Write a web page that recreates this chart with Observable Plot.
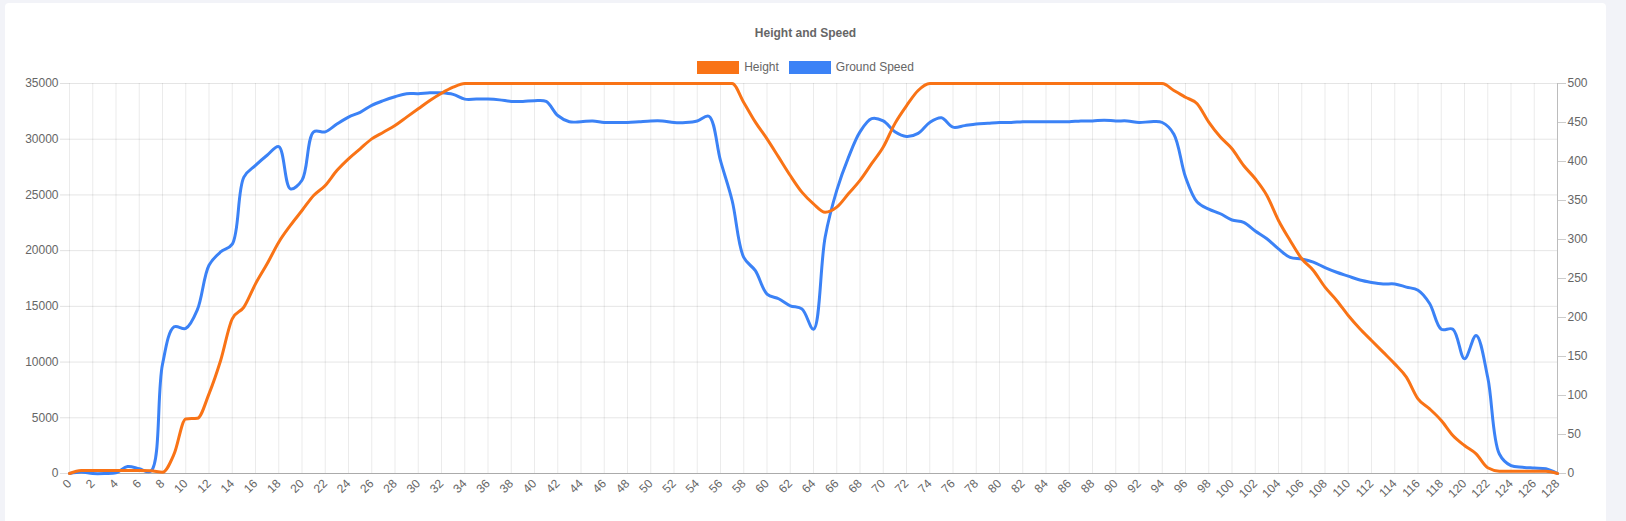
<!DOCTYPE html>
<html>
<head>
<meta charset="utf-8">
<script src="https://cdn.jsdelivr.net/npm/d3@7"></script>
<script src="https://cdn.jsdelivr.net/npm/@observablehq/plot@0.6"></script>
<style>
  html, body { margin: 0; padding: 0; overflow: hidden; width: 1626px; height: 521px; background: #f2f3f8; }
  #card { position: absolute; left: 5px; top: 3px; width: 1601px; height: 540px; background: #fff; border-radius: 4px; overflow: hidden; font-family: Arial, "Liberation Sans", sans-serif; color: #666; }
  #title { position: absolute; top: 22px; left: 0; width: 100%; text-align: center; font-weight: bold; font-size: 12px; line-height: 16px; }
  #legend { position: absolute; top: 56px; left: 0; width: 100%; display: flex; justify-content: center; align-items: center; font-size: 12px; line-height: 16px; }
  .item { display: flex; align-items: center; margin: 0 5px; }
  .box { width: 42px; height: 13px; margin-right: 5px; }
  #chart { position: absolute; top: 73px; left: 0; }
</style>
</head>
<body>
<div id="card">
  <div id="title"></div>
  <div id="legend"></div>
  <div id="chart"></div>
</div>
<script>
const titleText = "Height and Speed";
const seriesNames = ["Height", "Ground Speed"];
const seriesColors = ["#f97316", "#3b82f6"];

// time index (category axis)
const times = d3.range(0, 129);

// Height in feet (left axis)
const heightValues = [
  0, 270, 270, 270, 270, 270, 270, 250, 120, 1760,
  4900, 4950, 7150, 10140, 13880, 14930, 17020, 18820, 20760, 22260,
  23600, 24950, 25850, 27190, 28240, 29140, 30030, 30630, 31230, 31980,
  32730, 33480, 34130, 34670, 35000, 35000, 35000, 35000, 35000, 35000,
  35000, 35000, 35000, 35000, 35000, 35000, 35000, 35000, 35000, 35000,
  35000, 35000, 35000, 35000, 35000, 35000, 35000, 35000, 33300, 31530,
  30030, 28390, 26740, 25250, 24200, 23450, 23900, 25100, 26300, 27800,
  29300, 31400, 33000, 34370, 35000, 35000, 35000, 35000, 35000, 35000,
  35000, 35000, 35000, 35000, 35000, 35000, 35000, 35000, 35000, 35000,
  35000, 35000, 35000, 35000, 35000, 34370, 33770, 33180, 31530, 30190,
  29140, 27640, 26450, 24950, 22710, 20910, 19270, 18220, 16720, 15530,
  14180, 12990, 11940, 10890, 9840, 8650, 6700, 5800, 4760, 3410,
  2510, 1765, 510, 210, 210, 210, 210, 210, 0
];

// Ground speed in knots (right axis)
const speedValues = [
  0, 2, 0, 0, 1, 9, 6, 3, 140, 188,
  186, 210, 267, 284, 294, 380, 395, 408, 419, 365,
  376, 438, 438, 448, 457, 463, 472, 478, 483, 487,
  487, 488, 488, 486, 480, 480, 480, 479, 477, 477,
  478, 477, 459, 451, 451, 452, 450, 450, 450, 451,
  452, 452, 450, 450, 452, 458, 401, 350, 277, 260,
  230, 224, 215, 211, 185, 303, 363, 405, 438, 455,
  452, 438, 432, 436, 450, 456, 444, 446, 448, 449,
  450, 450, 451, 451, 451, 451, 451, 452, 452, 453,
  452, 452, 450, 451, 450, 435, 380, 348, 339, 333,
  325, 322, 311, 301, 288, 277, 275, 271, 264, 258,
  253, 248, 245, 243, 243, 239, 235, 218, 185, 185,
  147, 177, 123, 25, 10, 8, 7, 6, 0
];

const xTicks = d3.range(0, 129, 2);
const heightTicks = [0, 5000, 10000, 15000, 20000, 25000, 30000, 35000];
const speedTicks = [0, 50, 100, 150, 200, 250, 300, 350, 400, 450, 500];
const heightMax = 35000, speedMax = 500;
const ratio = heightMax / speedMax;

const rows = times.map((t, i) => ({t, height: heightValues[i], speed: speedValues[i]}));

document.getElementById("title").textContent = titleText;
const legend = document.getElementById("legend");
seriesNames.forEach((name, i) => {
  const item = document.createElement("div");
  item.className = "item";
  const box = document.createElement("span");
  box.className = "box";
  box.style.background = seriesColors[i];
  const label = document.createElement("span");
  label.textContent = name;
  item.appendChild(box);
  item.appendChild(label);
  legend.appendChild(item);
});

const chart = Plot.plot({
  width: 1601,
  height: 445,
  marginLeft: 64,
  marginRight: 49,
  marginTop: 7,
  marginBottom: 48,
  style: {fontFamily: "Arial, 'Liberation Sans', sans-serif", fontSize: "12px", color: "#666", background: "transparent"},
  x: {domain: [0, 128], label: null},
  y: {domain: [0, heightMax], label: null},
  marks: [
    Plot.gridX(xTicks, {stroke: "#000", strokeOpacity: 0.08}),
    Plot.gridY(heightTicks, {stroke: "#000", strokeOpacity: 0.1}),
    Plot.ruleY([0], {stroke: "#000", strokeOpacity: 0.25}),
    Plot.ruleX([128], {stroke: "#000", strokeOpacity: 0.2}),
    Plot.axisX(xTicks, {tickRotate: -45, tickSize: 0, tickPadding: 8, tickFormat: d3.format("d"), label: null, fill: "#666"}),
    Plot.axisY(heightTicks, {anchor: "left", tickSize: 9, tickPadding: 2, tickFormat: d3.format("d"), stroke: "#000", strokeOpacity: 0.12, fill: "#666", label: null}),
    Plot.axisY(speedTicks.map(s => s * ratio), {anchor: "right", tickFormat: d => String(Math.round(d / ratio)), tickSize: 8, tickPadding: 2, stroke: "#000", strokeOpacity: 0.2, fill: "#666", label: null}),
    Plot.line(rows, {x: "t", y: d => d.speed * ratio, stroke: seriesColors[1], strokeWidth: 3, curve: "catmull-rom"}),
    Plot.line(rows, {x: "t", y: "height", stroke: seriesColors[0], strokeWidth: 3, curve: "monotone-x"})
  ]
});
document.getElementById("chart").appendChild(chart);
</script>
</body>
</html>
